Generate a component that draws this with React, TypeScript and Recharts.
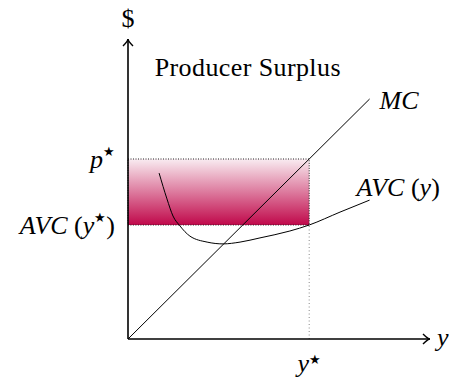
import React from 'react';
import { ComposedChart, Line, XAxis, YAxis, ReferenceArea, ReferenceLine, ReferenceDot } from 'recharts';

// quantity / price units of the sketch
const Y_STAR = 6;
const P_STAR = 6;
const AVC_AT_Y_STAR = 3.8;

const mcPoints = [
  { q: 0, mc: 0 },
  { q: 8, mc: 8 },
];

const avcQ = [1.03, 1.29, 1.49, 1.72, 2.05, 2.62, 3.15, 3.71, 4.37, 5.36, 6.0, 7.02, 8.0];
const avcVal = [5.53, 4.67, 4.1, 3.77, 3.43, 3.23, 3.17, 3.23, 3.37, 3.6, 3.8, 4.23, 4.63];
const avcPoints = avcQ.map((q, i) => ({ q, avc: avcVal[i] }));

const yTicks = [AVC_AT_Y_STAR, P_STAR];
const xTicks = [Y_STAR];

const SERIF = '"Liberation Serif", "DejaVu Serif", serif';
const FS = 26;

const Star = () => (
  <tspan fontSize={13} dy={-8} fontStyle="normal">★</tspan>
);

const YTick = (props: any) => {
  const { x, y, payload } = props;
  if (payload.value === P_STAR) {
    return (
      <text x={x} y={y} textAnchor="end" dominantBaseline="central" fontFamily={SERIF} fontSize={FS}>
        <tspan fontStyle="italic">p</tspan>
        <Star />
      </text>
    );
  }
  return (
    <text x={x} y={y} textAnchor="end" dominantBaseline="central" fontFamily={SERIF} fontSize={FS}>
      <tspan fontStyle="italic">AVC</tspan>
      <tspan> (</tspan>
      <tspan fontStyle="italic">y</tspan>
      <Star />
      <tspan dy={8}>)</tspan>
    </text>
  );
};

const XTick = (props: any) => {
  const { x, y } = props;
  return (
    <text x={x} y={y + 31} textAnchor="middle" fontFamily={SERIF} fontSize={FS}>
      <tspan fontStyle="italic">y</tspan>
      <Star />
    </text>
  );
};

const Arrow = (props: any) => {
  const { x1, y1, x2, y2 } = props;
  const a = Math.atan2(y2 - y1, x2 - x1);
  const len = 7;
  const w = 5;
  const bx = x2 - len * Math.cos(a);
  const by = y2 - len * Math.sin(a);
  const px = -Math.sin(a) * w;
  const py = Math.cos(a) * w;
  const qx = x2 - 2 * Math.cos(a);
  const qy = y2 - 2 * Math.sin(a);
  return (
    <g>
      <line x1={x1} y1={y1} x2={x2} y2={y2} stroke="#000" strokeWidth={1.6} />
      <path
        d={`M${bx + px},${by + py} Q${qx},${qy} ${x2},${y2} Q${qx},${qy} ${bx - px},${by - py}`}
        fill="none"
        stroke="#000"
        strokeWidth={1.4}
      />
    </g>
  );
};

const textAt = (content: React.ReactNode, dx: number, dy: number, anchor: string = 'middle') => (props: any) => {
  const { cx, cy } = props;
  return (
    <text x={cx + dx} y={cy + dy} textAnchor={anchor} dominantBaseline="central" fontFamily={SERIF} fontSize={FS}>
      {content}
    </text>
  );
};

export default function App() {
  return (
    <div style={{ position: 'absolute', left: 0, top: 0, background: '#fff' }}>
      <ComposedChart width={449} height={377} margin={{ top: 39, right: 19, bottom: 0, left: 0 }}>
        <defs>
          <linearGradient id="psGrad" x1="0" y1="0" x2="0" y2="1">
            <stop offset="0%" stopColor="#f9ecf1" />
            <stop offset="100%" stopColor="#c0084a" />
          </linearGradient>
        </defs>
        <XAxis
          type="number"
          dataKey="q"
          domain={[0, 10]}
          ticks={xTicks}
          axisLine={false}
          tickLine={false}
          tickSize={0}
          height={38}
          tick={<XTick />}
          allowDataOverflow
        />
        <YAxis
          type="number"
          domain={[0, 10]}
          ticks={yTicks}
          axisLine={false}
          tickLine={false}
          tickSize={0}
          tickMargin={13}
          width={128}
          tick={<YTick />}
          allowDataOverflow
        />
        <ReferenceArea
          x1={0}
          x2={Y_STAR}
          y1={AVC_AT_Y_STAR}
          y2={P_STAR}
          fill="url(#psGrad)"
          fillOpacity={1}
          stroke="#222"
          strokeDasharray="1 1.5"
          strokeWidth={1}
        />
        <ReferenceLine
          segment={[{ x: Y_STAR, y: 0 }, { x: Y_STAR, y: AVC_AT_Y_STAR }]}
          stroke="#888"
          strokeDasharray="1 2.5"
          strokeWidth={1}
        />
        <Line data={mcPoints} dataKey="mc" type="linear" stroke="#000" strokeWidth={1} dot={false} isAnimationActive={false} />
        <Line data={avcPoints} dataKey="avc" type="monotone" stroke="#000" strokeWidth={1} dot={false} isAnimationActive={false} />
        <ReferenceLine segment={[{ x: 0, y: 0 }, { x: 10, y: 0 }]} shape={<Arrow />} />
        <ReferenceLine segment={[{ x: 0, y: 0 }, { x: 0, y: 10 }]} shape={<Arrow />} />
        <ReferenceDot x={0} y={10} r={0} ifOverflow="visible" shape={textAt('$', 0, -21)} />
        <ReferenceDot x={10} y={0} r={0} ifOverflow="visible" shape={textAt(<tspan fontStyle="italic">y</tspan>, 7, -2, 'start')} />
        <ReferenceDot x={4} y={9} r={0} ifOverflow="visible" shape={(p: any) => (
          <text x={p.cx - 1} y={p.cy - 2} textAnchor="middle" dominantBaseline="central" fontFamily={SERIF} fontSize={26} letterSpacing={0.4}>
            Producer Surplus
          </text>
        )} />
        <ReferenceDot x={8} y={8} r={0} ifOverflow="visible" shape={textAt(<tspan fontStyle="italic">MC</tspan>, 10, 1, 'start')} />
        <ReferenceDot
          x={8}
          y={4.63}
          r={0}
          ifOverflow="visible"
          shape={textAt(
            <>
              <tspan fontStyle="italic">AVC</tspan>
              <tspan> (</tspan>
              <tspan fontStyle="italic">y</tspan>
              <tspan>)</tspan>
            </>,
            -13,
            -13,
            'start'
          )}
        />
      </ComposedChart>
    </div>
  );
}
